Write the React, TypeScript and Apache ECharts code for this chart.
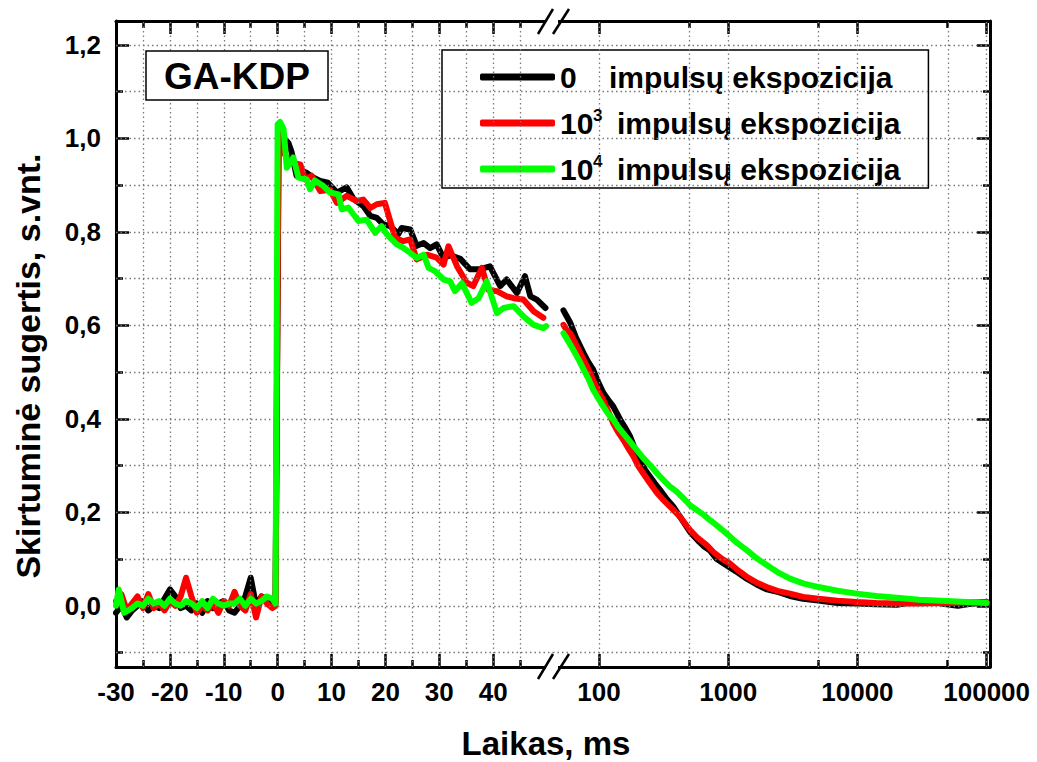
import React, { useEffect, useRef } from "react";
import * as echarts from "echarts";

const FONT = "'Liberation Sans', Arial, Helvetica, sans-serif";

const seriesNames = ["0 impulsų ekspozicija", "10³ impulsų ekspozicija", "10⁴ impulsų ekspozicija"];
const seriesColors = ["#000000", "#ff0000", "#00ff00"];

// tick positions
const xLinMajor = [-30, -20, -10, 0, 10, 20, 30, 40];
const xLinMinor = [-25, -15, -5, 5, 15, 25, 35, 45];
const xLogMajor = [100, 1000, 10000, 100000];
const xLogMinor = [500, 5000, 50000];
const yMajor = [0, 0.2, 0.4, 0.6, 0.8, 1.0, 1.2];
const yMinor = [-0.1, 0.1, 0.3, 0.5, 0.7, 0.9, 1.1];

// axis ranges
const X_LIN_MIN = -30;
const X_LIN_MAX = 51.1;
const X_LOG_MIN_MS = 44;
const X_LOG_MAX_MS = 106200;
const Y_MIN = -0.131;
const Y_MAX = 1.251;

// linear part: [time ms, value]
const blackLinear = [
  [-30, -0.015], [-29, 0.0], [-28, -0.025], [-27, -0.01], [-26, 0.0], [-25, 0.01], [-24, -0.01], [-23, 0.0],
  [-22, -0.005], [-21, 0.015], [-20, 0.035], [-19, 0.02], [-18, -0.005], [-17, 0.0], [-16, -0.01], [-15, 0.005],
  [-14, -0.015], [-13, 0.01], [-12, -0.005], [-11, 0.005], [-10, 0.01], [-9, -0.01], [-8, -0.015], [-7, 0.0],
  [-6, 0.02], [-5, 0.06], [-4, 0.0], [-3, 0.02], [-2, 0.015], [-1, 0.0], [-0.4, 0.005],
  [0.2, 1.02], [1.2, 1.0], [2.0, 0.99], [2.6, 0.97], [3.5, 0.92], [4.5, 0.93], [5.4, 0.926], [6.6, 0.916],
  [7.9, 0.909], [9.3, 0.905], [9.7, 0.9], [11.0, 0.884], [12.8, 0.895], [14.1, 0.87], [15.9, 0.855], [17.2, 0.834],
  [18.4, 0.83], [19.6, 0.816], [20.9, 0.812], [22.4, 0.795], [23.0, 0.808], [24.6, 0.805], [25.8, 0.77], [27.1, 0.776],
  [28.3, 0.765], [29.5, 0.773], [30.8, 0.744], [32.0, 0.75], [33.9, 0.742], [35.7, 0.72], [37.6, 0.72], [39.4, 0.726],
  [41.3, 0.684], [42.5, 0.698], [44.4, 0.669], [45.9, 0.705], [46.9, 0.662], [48.1, 0.655], [49.7, 0.637],
];
const redLinear = [
  [-30, 0.01], [-29, 0.025], [-28, -0.01], [-27, 0.005], [-26, 0.02], [-25, -0.005], [-24, 0.025], [-23, -0.005],
  [-22, 0.005], [-21, -0.01], [-20, 0.01], [-19, 0.0], [-18, 0.02], [-17, 0.06], [-16, 0.02], [-15, -0.015],
  [-14, 0.0], [-13, -0.01], [-12, 0.005], [-11, -0.015], [-10, 0.01], [-9, 0.0], [-8, 0.03], [-7, 0.0],
  [-6, -0.01], [-5, 0.025], [-4, -0.025], [-3, 0.02], [-2, 0.005], [-1, -0.005], [-0.4, 0.0],
  [0.2, 1.03], [1.1, 0.97], [2.3, 0.948], [4.2, 0.944], [5.1, 0.912], [6.3, 0.92], [7.9, 0.887], [9.7, 0.89],
  [11.0, 0.862], [12.8, 0.877], [14.7, 0.866], [15.9, 0.869], [17.2, 0.851], [18.4, 0.859], [19.9, 0.862], [21.8, 0.787],
  [23.3, 0.78], [24.6, 0.784], [25.8, 0.741], [27.7, 0.751], [29.5, 0.745], [30.8, 0.73], [31.7, 0.769], [33.3, 0.726],
  [35.1, 0.691], [36.3, 0.684], [37.9, 0.723], [39.1, 0.676], [40.7, 0.673], [42.5, 0.662], [43.8, 0.658], [45.6, 0.655],
  [47.5, 0.63], [49.3, 0.616],
];
const greenLinear = [
  [-30, 0.0], [-29.5, 0.035], [-28.5, -0.015], [-27, -0.005], [-26, 0.005], [-25, 0.0], [-24, 0.015], [-23, 0.005],
  [-22, 0.01], [-21, 0.0], [-20, 0.015], [-19, 0.005], [-18, 0.0], [-17, 0.01], [-16, 0.005], [-15, -0.005],
  [-14, 0.01], [-13, -0.005], [-12, 0.015], [-11, 0.005], [-10, 0.0], [-9, 0.005], [-8, 0.005], [-7, 0.015],
  [-6, 0.0], [-5, 0.015], [-4, 0.005], [-3, 0.01], [-2, 0.02], [-1, 0.015], [-0.4, 0.005],
  [0.0, 1.03], [0.45, 1.035], [1.1, 1.02], [1.7, 0.937], [2.9, 0.959], [3.85, 0.916], [5.4, 0.912], [6.0, 0.891],
  [6.9, 0.91], [8.5, 0.898], [9.7, 0.884], [11.3, 0.88], [11.9, 0.848], [13.1, 0.852], [15.0, 0.823], [16.5, 0.826],
  [18.1, 0.798], [19.3, 0.812], [20.3, 0.794], [22.1, 0.773], [23.3, 0.766], [24.6, 0.755], [25.8, 0.744], [27.1, 0.751],
  [28.0, 0.723], [29.2, 0.716], [30.8, 0.698], [32.0, 0.694], [32.9, 0.673], [34.2, 0.69], [36.0, 0.648], [37.3, 0.658],
  [38.8, 0.694], [40.7, 0.626], [41.9, 0.637], [43.8, 0.641], [45.6, 0.619], [47.5, 0.601], [49.3, 0.594], [49.8, 0.598],
];

// logarithmic part: [time ms, value]
const blackLog = [
  [53, 0.632], [56, 0.62], [60, 0.605], [66, 0.575], [76, 0.54], [83, 0.52], [90, 0.505], [98, 0.48], [108, 0.455],
  [118, 0.44], [129, 0.426], [146, 0.398], [160, 0.38], [174, 0.362], [190, 0.335], [207, 0.312], [228, 0.29],
  [248, 0.276], [270, 0.262], [296, 0.248], [335, 0.228], [376, 0.212], [424, 0.19], [506, 0.158], [580, 0.14],
  [643, 0.128], [723, 0.118], [815, 0.1], [1014, 0.083], [1200, 0.07], [1390, 0.058], [1650, 0.046], [1986, 0.035],
  [2400, 0.03], [3006, 0.021], [3800, 0.015], [4989, 0.011], [7000, 0.006], [9863, 0.005], [14000, 0.003],
  [20140, 0.002], [27000, 0.008], [33000, 0.01], [48980, 0.003], [60000, 0.0], [75000, 0.004], [100000, 0.008],
];
const redLog = [
  [53, 0.601], [56, 0.59], [60, 0.583], [66, 0.56], [76, 0.526], [83, 0.505], [90, 0.483], [98, 0.46], [108, 0.44],
  [118, 0.415], [129, 0.39], [140, 0.372], [154, 0.355], [170, 0.335], [185, 0.319], [200, 0.3], [220, 0.283],
  [248, 0.262], [280, 0.242], [315, 0.226], [376, 0.205], [424, 0.19], [506, 0.162], [580, 0.145], [681, 0.13],
  [767, 0.115], [900, 0.1], [1014, 0.092], [1200, 0.075], [1390, 0.062], [1650, 0.05], [1986, 0.04], [2400, 0.032],
  [3006, 0.026], [3800, 0.019], [4989, 0.015], [7000, 0.011], [9863, 0.008], [14000, 0.006], [20140, 0.005],
  [30000, 0.005], [48980, 0.006], [70000, 0.007], [100000, 0.008],
];
const greenLog = [
  [53, 0.583], [58, 0.565], [63, 0.548], [70, 0.525], [76, 0.505], [83, 0.485], [90, 0.462], [98, 0.445], [108, 0.426],
  [118, 0.41], [129, 0.398], [140, 0.383], [154, 0.369], [175, 0.35], [196, 0.333], [220, 0.316], [248, 0.301],
  [280, 0.284], [315, 0.269], [350, 0.256], [399, 0.244], [450, 0.23], [506, 0.215], [570, 0.205], [643, 0.195],
  [723, 0.183], [815, 0.172], [900, 0.162], [1014, 0.15], [1164, 0.135], [1390, 0.119], [1650, 0.102], [1986, 0.087],
  [2400, 0.072], [3006, 0.058], [3800, 0.048], [4989, 0.04], [7000, 0.032], [9863, 0.026], [14000, 0.021],
  [20140, 0.017], [30000, 0.013], [48980, 0.01], [70000, 0.008], [100000, 0.006],
];

const linearData = [blackLinear, redLinear, greenLinear];
const logData = [blackLog, redLog, greenLog];

const lg = (v: number) => Math.log10(v);

const axisLineStyle = { color: "#000", width: 3 };
const gridLineStyle = { color: "#7a7a7a", width: 1.3, type: [1.5, 3] as any };
const labelStyle = { color: "#000", fontFamily: FONT, fontWeight: "bold", fontSize: 26 };

function makeAxis(o: any) {
  return {
    type: "value",
    gridIndex: o.grid,
    position: o.position,
    min: o.min,
    max: o.max,
    axisLine: { show: !!o.line, onZero: false, lineStyle: axisLineStyle },
    axisTick: {
      show: true,
      inside: true,
      length: o.len,
      customValues: o.ticks,
      lineStyle: { color: "#000", width: 2.5 },
    },
    axisLabel: o.labels
      ? { show: true, customValues: o.labels, formatter: o.fmt, margin: o.margin, ...labelStyle }
      : { show: false },
    splitLine: { show: false },
    minorTick: { show: false },
    minorSplitLine: { show: false },
  };
}

function gridLines(xs: number[], ys: number[]) {
  return {
    silent: true,
    symbol: ["none", "none"],
    label: { show: false },
    emphasis: { disabled: true },
    lineStyle: gridLineStyle,
    animation: false,
    data: [...xs.map((v) => ({ xAxis: v })), ...ys.map((v) => ({ yAxis: v }))],
  };
}

export default function App() {
  const ref = useRef<HTMLDivElement>(null);

  useEffect(() => {
    if (!ref.current) return;
    const chart = echarts.init(ref.current, null, { renderer: "svg" });

    const linFmt = (v: number) => String(Math.round(v));
    const logFmt = (v: number) => String(Math.round(Math.pow(10, v)));
    const yFmt = (v: number) => v.toFixed(1).replace(".", ",");

    const lMin = lg(X_LOG_MIN_MS);
    const lMax = lg(X_LOG_MAX_MS);

    const xAxis = [
      makeAxis({ grid: 0, position: "bottom", min: X_LIN_MIN, max: X_LIN_MAX, line: true, len: 13, ticks: xLinMajor, labels: xLinMajor, fmt: linFmt, margin: 12 }),
      makeAxis({ grid: 0, position: "bottom", min: X_LIN_MIN, max: X_LIN_MAX, line: false, len: 7, ticks: xLinMinor }),
      makeAxis({ grid: 0, position: "top", min: X_LIN_MIN, max: X_LIN_MAX, line: true, len: 13, ticks: xLinMajor }),
      makeAxis({ grid: 0, position: "top", min: X_LIN_MIN, max: X_LIN_MAX, line: false, len: 7, ticks: xLinMinor }),
      makeAxis({ grid: 1, position: "bottom", min: lMin, max: lMax, line: true, len: 13, ticks: xLogMajor.map(lg), labels: xLogMajor.map(lg), fmt: logFmt, margin: 12 }),
      makeAxis({ grid: 1, position: "bottom", min: lMin, max: lMax, line: false, len: 7, ticks: xLogMinor.map(lg) }),
      makeAxis({ grid: 1, position: "top", min: lMin, max: lMax, line: true, len: 13, ticks: xLogMajor.map(lg) }),
      makeAxis({ grid: 1, position: "top", min: lMin, max: lMax, line: false, len: 7, ticks: xLogMinor.map(lg) }),
    ];
    const yAxis = [
      makeAxis({ grid: 0, position: "left", min: Y_MIN, max: Y_MAX, line: true, len: 13, ticks: yMajor, labels: yMajor, fmt: yFmt, margin: 15 }),
      makeAxis({ grid: 0, position: "left", min: Y_MIN, max: Y_MAX, line: false, len: 7, ticks: yMinor }),
      makeAxis({ grid: 1, position: "right", min: Y_MIN, max: Y_MAX, line: true, len: 13, ticks: yMajor }),
      makeAxis({ grid: 1, position: "right", min: Y_MIN, max: Y_MAX, line: false, len: 7, ticks: yMinor }),
    ];

    const allY = [...yMinor, ...yMajor];
    const series: any[] = [
      {
        type: "line",
        name: "grid-lin",
        xAxisIndex: 0,
        yAxisIndex: 0,
        data: [],
        showSymbol: false,
        silent: true,
        z: 1,
        markLine: gridLines([...xLinMinor, ...xLinMajor.filter((v) => v !== X_LIN_MIN)], allY),
      },
      {
        type: "line",
        name: "grid-log",
        xAxisIndex: 4,
        yAxisIndex: 2,
        data: [],
        showSymbol: false,
        silent: true,
        z: 1,
        markLine: gridLines([...xLogMinor, ...xLogMajor].map(lg), allY),
      },
    ];
    for (let i = 0; i < 3; i++) {
      const common = {
        type: "line",
        name: seriesNames[i],
        showSymbol: false,
        symbol: "none",
        color: seriesColors[i],
        lineStyle: { color: seriesColors[i], width: 6, cap: "round", join: "round" },
        z: 3 + i,
        silent: true,
      };
      series.push({ ...common, xAxisIndex: 0, yAxisIndex: 0, data: linearData[i] });
      series.push({ ...common, xAxisIndex: 4, yAxisIndex: 2, data: logData[i].map(([t, v]) => [lg(t), v]) });
    }

    const richBase = { fontFamily: FONT, fontWeight: "bold", fontSize: 30, color: "#000", lineHeight: 32 };

    const option: any = {
      animation: false,
      backgroundColor: "#fff",
      textStyle: { fontFamily: FONT },
      grid: [
        { left: 116, top: 21, width: 437, height: 646, outerBoundsMode: "none", containLabel: false },
        { left: 553, top: 21, width: 437, height: 646, outerBoundsMode: "none", containLabel: false },
      ],
      xAxis,
      yAxis,
      series,
      title: {
        text: "GA-KDP",
        left: 146,
        top: 51,
        padding: [5, 18, 4, 18],
        borderColor: "#000",
        borderWidth: 1.5,
        backgroundColor: "#fff",
        textStyle: { fontFamily: FONT, fontWeight: "bold", fontSize: 37, color: "#000", lineHeight: 40 },
      },
      legend: {
        orient: "vertical",
        left: 442,
        top: 50,
        padding: [11, 28, 3, 38],
        itemWidth: 75,
        itemHeight: 7,
        itemGap: 14,
        icon: "roundRect",
        selectedMode: false,
        backgroundColor: "#fff",
        borderColor: "#000",
        borderWidth: 1.5,
        borderRadius: 0,
        data: seriesNames,
        formatter: (name: string) => {
          const idx = seriesNames.indexOf(name);
          if (idx === 0) return "{n0|0}{t|impulsų ekspozicija}";
          const sup = idx === 1 ? "3" : "4";
          return "{n|10}{sup|" + sup + "}{t|impulsų ekspozicija}";
        },
        textStyle: {
          ...richBase,
          rich: {
            n0: { ...richBase, width: 49 },
            n: { ...richBase, width: 33 },
            sup: { fontFamily: FONT, fontWeight: "bold", fontSize: 17, color: "#000", lineHeight: 18, width: 24, verticalAlign: "top" },
            t: { ...richBase },
          },
        },
      },
      graphic: [
        { type: "rect", shape: { x: 546, y: 16, width: 12, height: 10 }, style: { fill: "#fff" }, z: 100 },
        { type: "rect", shape: { x: 546, y: 662, width: 12, height: 10 }, style: { fill: "#fff" }, z: 100 },
        { type: "line", shape: { x1: 538, y1: 34, x2: 553, y2: 9 }, style: { stroke: "#000", lineWidth: 2.5 }, z: 101 },
        { type: "line", shape: { x1: 553, y1: 34, x2: 569, y2: 9 }, style: { stroke: "#000", lineWidth: 2.5 }, z: 101 },
        { type: "line", shape: { x1: 538, y1: 679, x2: 553, y2: 654 }, style: { stroke: "#000", lineWidth: 2.5 }, z: 101 },
        { type: "line", shape: { x1: 553, y1: 679, x2: 569, y2: 654 }, style: { stroke: "#000", lineWidth: 2.5 }, z: 101 },
        {
          type: "text",
          x: 546,
          y: 743,
          style: {
            text: "Laikas, ms",
            fontFamily: FONT,
            fontWeight: "bold",
            fontSize: 33,
            fill: "#000",
            align: "center",
            verticalAlign: "middle",
            textAlign: "center",
            textVerticalAlign: "middle",
          },
        },
        {
          type: "text",
          x: 28,
          y: 366,
          rotation: Math.PI / 2,
          style: {
            text: "Skirtuminė sugertis, s.vnt.",
            fontFamily: FONT,
            fontWeight: "bold",
            fontSize: 34,
            fill: "#000",
            align: "center",
            verticalAlign: "middle",
            textAlign: "center",
            textVerticalAlign: "middle",
          },
        },
      ],
    };

    chart.setOption(option);
    return () => chart.dispose();
  }, []);

  return (
    <div
      ref={ref}
      style={{ position: "fixed", left: 0, top: 0, width: 1037, height: 762, background: "#fff" }}
    />
  );
}
